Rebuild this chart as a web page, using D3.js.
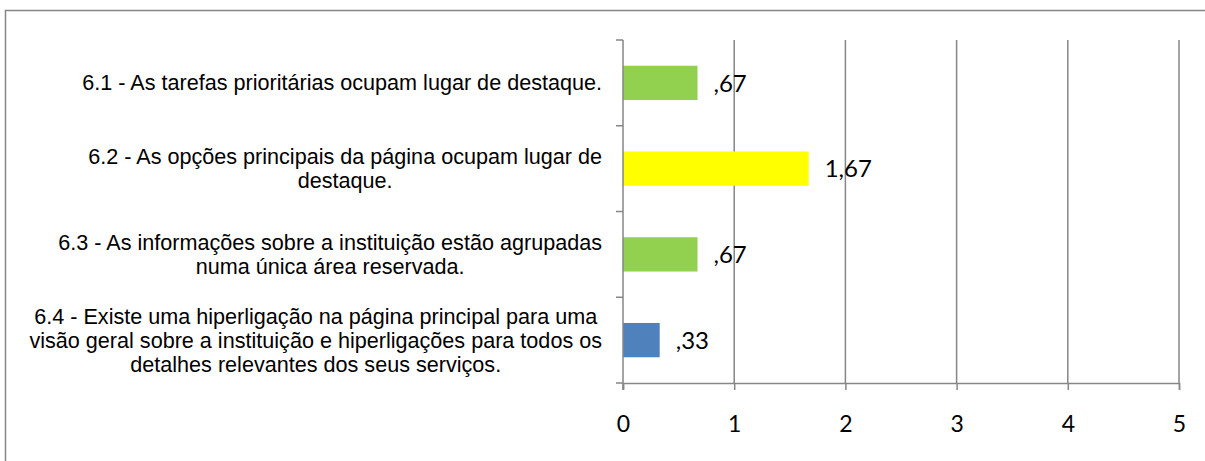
<!DOCTYPE html>
<html>
<head>
<meta charset="utf-8">
<script src="https://cdn.jsdelivr.net/npm/d3@7"></script>
<style>
  body { margin: 0; background: #fff; overflow: hidden; }
  svg { display: block; }
</style>
</head>
<body>
<div id="chart"></div>
<script>
const width = 1205;
const height = 461;
const margin = { left: 623, top: 40, right: 26, bottom: 78 };

// data
const categories = ['6.1', '6.2', '6.3', '6.4'];
const labelLines = [
  ['6.1 - As tarefas prioritárias ocupam lugar de destaque.'],
  ['6.2 - As opções principais da página ocupam lugar de', 'destaque.'],
  ['6.3 - As informações sobre a instituição estão agrupadas', 'numa única área reservada.'],
  ['6.4 - Existe uma hiperligação na página principal para uma', 'visão geral sobre a instituição e hiperligações para todos os', 'detalhes relevantes dos seus serviços.']
];
const values = [0.67, 1.67, 0.67, 0.33];
const valueLabels = [',67', '1,67', ',67', ',33'];
const barColors = ['#92D050', '#FFFF00', '#92D050', '#4F81BD'];
const xTicks = [0, 1, 2, 3, 4, 5];

const svg = d3.select('#chart').append('svg')
  .attr('width', width)
  .attr('height', height);

// outer frame (right and bottom edges fall outside the picture)
svg.append('rect')
  .attr('x', 5.5)
  .attr('y', 10.5)
  .attr('width', 1300)
  .attr('height', 500)
  .attr('fill', 'none')
  .attr('stroke', '#868686')
  .attr('stroke-width', 1.5);

let x = d3.scaleLinear()
  .domain([0, 5])
  .range([margin.left, width - margin.right]);

let y = d3.scaleBand()
  .domain(categories)
  .range([margin.top, height - margin.bottom])
  .paddingInner(0.6)
  .paddingOuter(0.3);

const axisColor = '#868686';
const numFont = 'Lato, "Open Sans", sans-serif';
const y0 = margin.top;
const y1 = height - margin.bottom;

// vertical gridlines
svg.append('g')
  .selectAll('line')
  .data(xTicks.slice(1))
  .enter().append('line')
  .attr('x1', d => x(d)).attr('x2', d => x(d))
  .attr('y1', y0).attr('y2', y1)
  .attr('stroke', axisColor)
  .attr('stroke-width', 1.5);

// bars
svg.append('g')
  .selectAll('rect')
  .data(categories)
  .enter().append('rect')
  .attr('x', x(0))
  .attr('y', d => y(d))
  .attr('width', (d, i) => x(values[i]) - x(0))
  .attr('height', y.bandwidth())
  .attr('fill', (d, i) => barColors[i]);

// value labels
svg.append('g')
  .selectAll('text')
  .data(categories)
  .enter().append('text')
  .attr('x', (d, i) => x(values[i]) + 16)
  .attr('y', d => y(d) + y.bandwidth() / 2)
  .attr('dy', '0.36em')
  .attr('font-family', numFont)
  .attr('font-size', 24)
  .attr('fill', '#000')
  .text((d, i) => valueLabels[i]);

// x axis
const xAxis = svg.append('g')
  .attr('transform', 'translate(0,' + y1 + ')')
  .call(d3.axisBottom(x).tickValues(xTicks).tickSize(7).tickPadding(26).tickFormat(d3.format('d')));
xAxis.select('.domain').attr('stroke', axisColor).attr('stroke-width', 1.5);
xAxis.selectAll('.tick line').attr('stroke', axisColor).attr('stroke-width', 1.5);
xAxis.selectAll('.tick text')
  .attr('font-family', numFont)
  .attr('font-size', 23)
  .attr('fill', '#000');

// y axis line with ticks at band boundaries
const bounds = categories.map((d, i) => y0 + i * y.step());
bounds.push(y1);
svg.append('line')
  .attr('x1', x(0)).attr('x2', x(0))
  .attr('y1', y0).attr('y2', y1 + 7)
  .attr('stroke', axisColor)
  .attr('stroke-width', 1.5);
svg.append('g')
  .selectAll('line')
  .data(bounds)
  .enter().append('line')
  .attr('x1', x(0) - 7).attr('x2', x(0))
  .attr('y1', d => d).attr('y2', d => d)
  .attr('stroke', axisColor)
  .attr('stroke-width', 1.5);

// category labels, centred lines, block right-aligned
const labelRight = 602;
const lineHeight = 24;
const fontSize = 21.6;
categories.forEach((c, i) => {
  const lines = labelLines[i];
  const cy = y(c) + y.bandwidth() / 2;
  const g = svg.append('g');
  const texts = g.selectAll('text')
    .data(lines)
    .enter().append('text')
    .attr('font-family', '"Liberation Sans", Arial, sans-serif')
    .attr('font-size', fontSize)
    .attr('fill', '#000')
    .attr('text-anchor', 'middle')
    .attr('y', (d, j) => cy + (j - (lines.length - 1) / 2) * lineHeight)
    .attr('dy', '0.35em')
    .text(d => d);
  let maxW = 0;
  texts.each(function () { maxW = Math.max(maxW, this.getComputedTextLength()); });
  texts.attr('x', labelRight - maxW / 2);
});
</script>
</body>
</html>
